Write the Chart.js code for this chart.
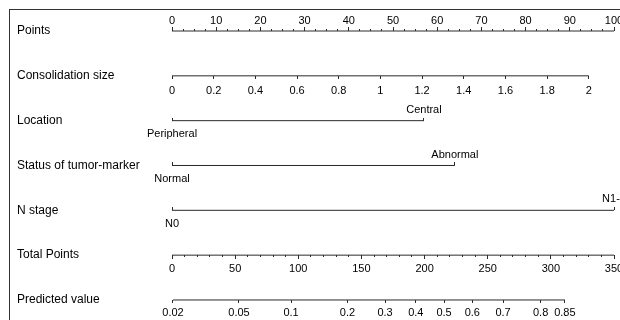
<!DOCTYPE html>
<html>
<head>
<meta charset="utf-8">
<script src="https://cdn.jsdelivr.net/npm/chart.js@4.4.0/dist/chart.umd.min.js"></script>
<style>
  html, body { margin: 0; padding: 0; background: #fff; }
  #wrap { position: relative; width: 620px; height: 320px; overflow: hidden; }
  #frame { position: absolute; left: 9px; top: 9px; width: 700px; height: 400px;
           border-top: 1px solid #333; border-left: 1px solid #333; }
  canvas { position: absolute; left: 0; top: 0; }
</style>
</head>
<body>
<div id="wrap">
  <div id="frame"></div>
  <canvas id="nomo" width="620" height="320"></canvas>
</div>
<script>
// rows of the nomogram, top to bottom
const rowNames = ["Points", "Consolidation size", "Location", "Status of tumor-marker", "N stage", "Total Points", "Predicted value"];

const pointTicks = [0, 10, 20, 30, 40, 50, 60, 70, 80, 90, 100];
const sizeTicks = [0, 0.2, 0.4, 0.6, 0.8, 1, 1.2, 1.4, 1.6, 1.8, 2];
const sizeMaxPoints = 94.3; // points given to 2 cm

const locationLevels = ["Peripheral", "Central"];
const locationPoints = [0, 57];
const markerLevels = ["Normal", "Abnormal"];
const markerPoints = [0, 64];
const nStageLevels = ["N0", "N1-3"];
const nStagePoints = [0, 100];

const totalTicks = [0, 50, 100, 150, 200, 250, 300, 350];
const predTicks = [0.02, 0.05, 0.1, 0.2, 0.3, 0.4, 0.5, 0.6, 0.7, 0.8, 0.85];
// linear predictor = lpIntercept + lpSlope * total points
const lpIntercept = -3.906;
const lpSlope = 0.01813;

const fontFamily = "'Liberation Sans', Arial, sans-serif";
const lineColor = "#2a2a2a";
const textColor = "#000";

function toTotal(p) {
  return (Math.log(p / (1 - p)) - lpIntercept) / lpSlope;
}

function noPad(s) {
  s.paddingLeft = 0;
  s.paddingRight = 0;
  s.paddingTop = 0;
  s.paddingBottom = 0;
}

// one horizontal axis sitting on a row of the y scale
function axisScale(row, max, o) {
  return {
    type: "linear",
    axis: "x",
    position: { y: row },
    min: 0,
    max: max,
    afterBuildTicks: o.values ? (s) => { s.ticks = o.values.map(v => ({ value: v })); } : undefined,
    afterFit: noPad,
    grid: { display: true, drawOnChartArea: false, drawTicks: true, tickLength: o.tick, color: lineColor, lineWidth: 1 },
    border: { display: false },
    ticks: {
      display: !!o.labels,
      autoSkip: false,
      maxRotation: 0,
      minRotation: 0,
      stepSize: o.step,
      padding: o.pad || 0,
      color: textColor,
      font: { family: fontFamily, size: 11 },
      callback: (v, i) => (o.labels ? o.labels[i] : ""),
    },
  };
}

const scales = {
  y: {
    type: "linear",
    position: "left",
    reverse: true,
    min: -0.5,
    max: 6.4,
    afterBuildTicks: (s) => { s.ticks = rowNames.map((n, i) => ({ value: i })); },
    afterFit: (s) => { s.width = 155; noPad(s); },
    grid: { display: false, drawTicks: false },
    border: { display: false },
    ticks: {
      crossAlign: "far",
      autoSkip: false,
      padding: 0,
      color: textColor,
      font: { family: fontFamily, size: 12 },
      callback: (v, i) => rowNames[i],
    },
  },
  xPts: axisScale(0, 100, { values: pointTicks, labels: pointTicks.map(String), tick: -4, pad: -13.1 }),
  xPtsMinor: axisScale(0, 100, { step: 2.5, tick: -2 }),
  xSize: axisScale(1, 2 * 100 / sizeMaxPoints, { values: sizeTicks, labels: sizeTicks.map(String), tick: 3, pad: 6 }),
  xTot: axisScale(5, 350, { values: totalTicks, labels: totalTicks.map(String), tick: 4, pad: 3.5 }),
  xTotMinor: axisScale(5, 350, { step: 10, tick: 2 }),
  xPred: axisScale(6, 350, { values: predTicks.map(toTotal), labels: predTicks.map(String), tick: 3, pad: 3.4 }),
};

const datasets = [];
function axisLine(id, row, from, to) {
  datasets.push({
    xAxisID: id,
    yAxisID: "y",
    data: [{ x: from, y: row }, { x: to, y: row }],
    showLine: true,
    borderColor: lineColor,
    borderWidth: 1,
    pointRadius: 0,
  });
}

axisLine("xPts", 0, 0, 100);
axisLine("xSize", 1, 0, 2);

// categorical rows: low level below the line, high level above
[[locationLevels, locationPoints], [markerLevels, markerPoints], [nStageLevels, nStagePoints]].forEach(([levels, pts], k) => {
  const row = k + 2;
  scales["xLo" + row] = axisScale(row, 100, { values: [pts[0]], labels: [levels[0]], tick: -3, pad: 9.6 });
  scales["xHi" + row] = axisScale(row, 100, { values: [pts[1]], labels: [levels[1]], tick: -3, pad: -14.6 });
  axisLine("xLo" + row, row, pts[0], pts[1]);
});

axisLine("xTot", 5, 0, 350);
axisLine("xPred", 6, toTotal(predTicks[0]), toTotal(predTicks[predTicks.length - 1]));

new Chart(document.getElementById("nomo"), {
  type: "scatter",
  data: { datasets: datasets },
  options: {
    responsive: false,
    animation: false,
    events: [],
    layout: { padding: { left: 17, right: 6, top: 8.6, bottom: 2.1 } },
    scales: scales,
    plugins: { legend: { display: false }, tooltip: { enabled: false } },
  },
});
</script>
</body>
</html>
